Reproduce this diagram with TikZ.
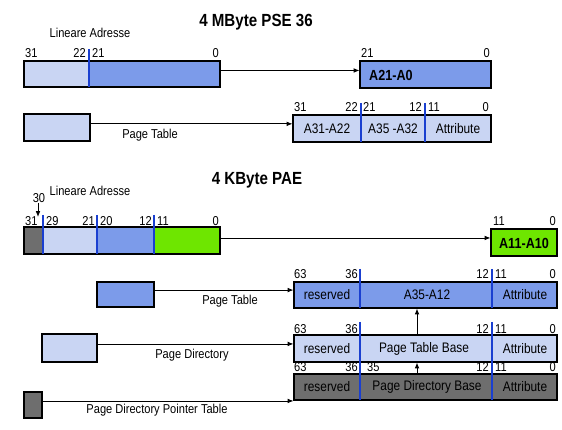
\documentclass[tikz,border=0pt]{standalone}
\usepackage{fontspec}
\setmainfont{Liberation Sans}[FakeStretch=0.86]
\usetikzlibrary{arrows.meta,fit,calc}

\definecolor{hellblau}{HTML}{C9D5F3}
\definecolor{mittelblau}{HTML}{7C9BEA}
\definecolor{dunkelgrau}{HTML}{6E6E6E}
\definecolor{gruen}{HTML}{6EE600}
\definecolor{trennblau}{HTML}{1A3FD0}

\tikzset{
  feld/.style={draw=black, line width=0.9pt, inner sep=0pt},
  trenn/.style={draw=trennblau, line width=1pt},
  pfeil/.style={-{Latex[length=5pt,width=4pt]}, line width=0.7pt},
  bitl/.style={font=\fontsize{11}{12}\selectfont, inner sep=0pt, anchor=base west},
  bitr/.style={font=\fontsize{11}{12}\selectfont, inner sep=0pt, anchor=base east},
  inhalt/.style={font=\fontsize{11.8}{12}\selectfont, inner sep=0pt},
  offs/.style={font=\fontsize{12.5}{13}\selectfont\bfseries, inner sep=0pt},
  titel/.style={font=\fontsize{15}{16}\selectfont\bfseries},
  beschr/.style={font=\fontsize{11}{12}\selectfont, inner sep=0pt},
}

\begin{document}
\begin{tikzpicture}[x=0.03cm,y=-0.03cm]
  \useasboundingbox (0,0) rectangle (562,430);
  \coordinate (mitte) at (417,0);

  % 4 MByte PSE 36
  \node[titel] (titelpse) at (256,22) {4 MByte PSE 36};
  \node[beschr] (linpse) at (90,33) {Lineare Adresse};

  % lineare Adresse
  \fill[hellblau] (24,61) rectangle (89,87);
  \fill[mittelblau] (89,61) rectangle (220,87);
  \node[feld, fit={(24,61)(220,87)}] (adr1) {};
  \draw[trenn] (89,49) -- (89,87);
  \node[bitl] (b31a) at (25,58) {31};
  \node[bitr] (b22a) at (86,58) {22};
  \node[bitl] (b21a) at (92,58) {21};
  \node[bitr] (b0a) at (219,58) {0};

  % Offset
  \node[feld, fill=mittelblau, fit={(360,61)(491,88)}] (off1) {};
  \node[offs, anchor=west] (off1txt) at (369,75) {A21-A0};
  \node[bitl] (b21b) at (361,58) {21};
  \node[bitr] (b0b) at (490,58) {0};

  % Page Table (PSE)
  \node[feld, fill=hellblau, fit={(24,114)(90,141)}] (pt1) {};
  \node[feld, fill=hellblau, fit={(293,115)(491,142)}] (ent1) {};
  \draw[trenn] (361,103) -- (361,142);
  \draw[trenn] (425,103) -- (425,142);
  \node[inhalt] (ent1a) at (327,129) {A31-A22};
  \node[inhalt] (ent1b) at (393,129) {A35 -A32};
  \node[inhalt] (ent1c) at (458,129) {Attribute};
  \node[bitl] (b31c) at (294,112) {31};
  \node[bitr] (b22c) at (358,112) {22};
  \node[bitl] (b21c) at (363,112) {21};
  \node[bitr] (b12c) at (422,112) {12};
  \node[bitl] (b11c) at (428,112) {11};
  \node[bitr] (b0c) at (489,112) {0};
  \node[beschr] (pt1txt) at (150,135) {Page Table};

  \coordinate (p1) at ($(adr1.north east)!0.37!(adr1.south east)$);
  \coordinate (p2) at ($(pt1.north east)!0.37!(pt1.south east)$);
  \draw[pfeil] (p1) -- (p1 -| off1.west);
  \draw[pfeil] (p2) -- (p2 -| ent1.west);

  % 4 KByte PAE
  \node[titel] (titelpae) at (257,180) {4 KByte PAE};
  \node[beschr] (linpae) at (90,191) {Lineare Adresse};

  \fill[dunkelgrau] (24,227) rectangle (43,254);
  \fill[hellblau] (43,227) rectangle (97,254);
  \fill[mittelblau] (97,227) rectangle (154,254);
  \fill[gruen] (154,227) rectangle (220,254);
  \node[feld, fit={(24,227)(220,254)}] (adr2) {};
  \draw[trenn] (43,215) -- (43,254);
  \draw[trenn] (97,215) -- (97,254);
  \draw[trenn] (154,215) -- (154,254);
  \node[bitl] (b31d) at (25,225.5) {31};
  \node[bitl] (b29d) at (46,225.5) {29};
  \node[bitr] (b21d) at (95,225.5) {21};
  \node[bitl] (b20d) at (100,225.5) {20};
  \node[bitr] (b12d) at (152,225.5) {12};
  \node[bitl] (b11d) at (157,225.5) {11};
  \node[bitr] (b0d) at (219,225.5) {0};
  \node[beschr] (b30d) at (39,198) {30};
  \draw[pfeil] (b30d.south -| 38,0) -- (38,217);

  % Offset
  \node[feld, fill=gruen, fit={(491,229)(557,256)}] (off2) {};
  \node[offs] (off2txt) at (524,243) {A11-A10};
  \node[bitl] (b11e) at (493,226) {11};
  \node[bitr] (b0e) at (556,226) {0};

  % Page Table Eintrag
  \node[feld, fill=mittelblau, fit={(294,282)(557,308)}] (pte) {};
  \draw[trenn] (360,269) -- (360,308);
  \draw[trenn] (492,269) -- (492,308);
  \node[inhalt] (ptea) at (327,295) {reserved};
  \node[inhalt] (pteb) at (427,295) {A35-A12};
  \node[inhalt] (ptec) at (525,295) {Attribute};
  \node[bitl] (b63f) at (294,279) {63};
  \node[bitr] (b36f) at (358,279) {36};
  \node[bitr] (b12f) at (489,279) {12};
  \node[bitl] (b11f) at (495,279) {11};
  \node[bitr] (b0f) at (556,279) {0};

  % Page Directory Eintrag
  \node[feld, fill=hellblau, fit={(294,335)(557,362)}] (pde) {};
  \draw[trenn] (360,322) -- (360,362);
  \draw[trenn] (492,322) -- (492,362);
  \node[inhalt] (pdea) at (327,349) {reserved};
  \node[inhalt] (pdeb) at (424,349) {Page Table Base};
  \node[inhalt] (pdec) at (525,349) {Attribute};
  \node[bitl] (b63g) at (294,333) {63};
  \node[bitr] (b36g) at (358,333) {36};
  \node[bitr] (b12g) at (489,333) {12};
  \node[bitl] (b11g) at (495,333) {11};
  \node[bitr] (b0g) at (556,333) {0};

  % Page Directory Pointer Eintrag
  \node[feld, fill=dunkelgrau, fit={(294,374)(557,400)}] (pdpe) {};
  \draw[trenn] (360,361) -- (360,400);
  \draw[trenn] (492,361) -- (492,400);
  \node[inhalt] (pdpea) at (327,387) {reserved};
  \node[inhalt] (pdpeb) at (427,387) {Page Directory Base};
  \node[inhalt] (pdpec) at (525,387) {Attribute};
  \node[bitl] (b63h) at (294,371.5) {63};
  \node[bitr] (b36h) at (358,371.5) {36};
  \node[bitl] (b35h) at (367,371.5) {35};
  \node[bitr] (b12h) at (489,371.5) {12};
  \node[bitl] (b11h) at (495,371.5) {11};
  \node[bitr] (b0h) at (556,371.5) {0};

  \draw[pfeil] (pde.north -| mitte) -- (pte.south -| mitte);
  \draw[pfeil] (pdpe.north -| mitte) -- (pde.south -| mitte);

  % Tabellen links
  \node[feld, fill=mittelblau, fit={(97,282)(154,307)}] (sp1) {};
  \node[feld, fill=hellblau, fit={(42,334)(97,362)}] (sp2) {};
  \node[feld, fill=dunkelgrau, fit={(24,392)(42,418)}] (sp3) {};
  \node[beschr] (sp1txt) at (230,301) {Page Table};
  \node[beschr] (sp2txt) at (192,355) {Page Directory};
  \node[beschr] (sp3txt) at (157,410) {Page Directory Pointer Table};

  \coordinate (p3) at ($(adr2.north east)!0.41!(adr2.south east)$);
  \coordinate (p4) at ($(sp1.north east)!0.33!(sp1.south east)$);
  \coordinate (p5) at ($(sp2.north east)!0.36!(sp2.south east)$);
  \coordinate (p6) at ($(sp3.north east)!0.35!(sp3.south east)$);
  \draw[pfeil] (p3) -- (p3 -| off2.west);
  \draw[pfeil] (p4) -- (p4 -| pte.west);
  \draw[pfeil] (p5) -- (p5 -| pde.west);
  \draw[pfeil] (p6) -- (p6 -| pdpe.west);
\end{tikzpicture}
\end{document}
